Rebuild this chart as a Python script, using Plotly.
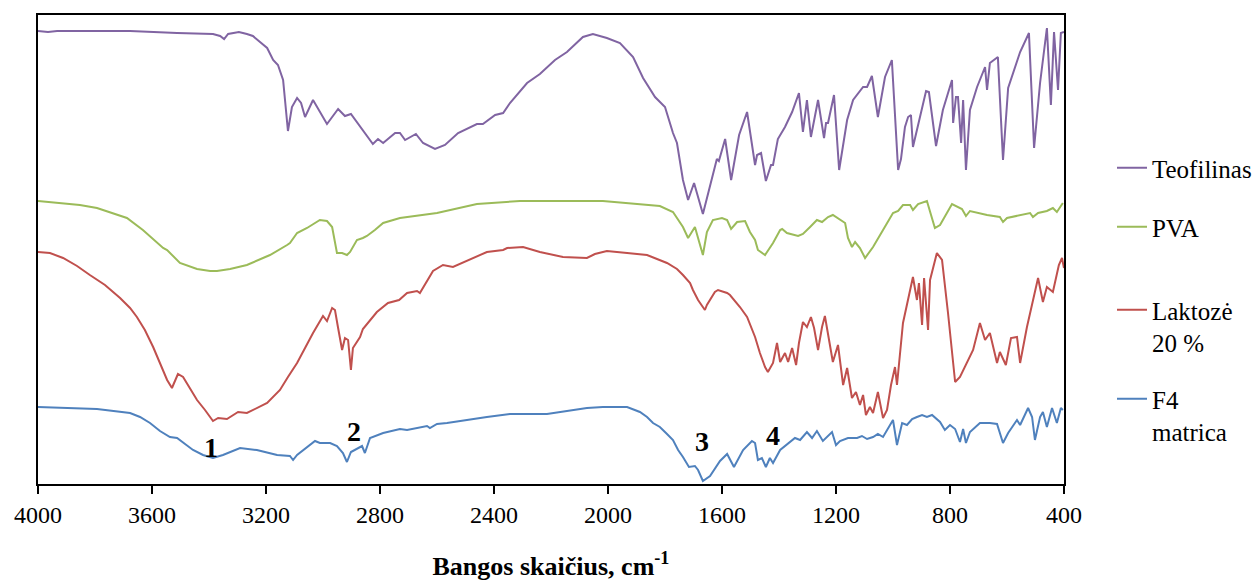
import plotly.graph_objects as go

# ---------------- data (wavenumber, cm-1 ; relative transmittance, a.u.) ----------------
teo_wn = [4000, 3965, 3933, 3677, 3512, 3386, 3361, 3347, 3333, 3316, 3295, 3267, 3246, 3221, 3196,
          3175, 3158, 3140, 3130, 3123, 3109, 3091, 3077, 3063, 3035, 3014, 2986, 2947, 2923, 2902,
          2877, 2825, 2807, 2789, 2747, 2730, 2712, 2674, 2649, 2607, 2572, 2526, 2460, 2439, 2396,
          2368, 2344, 2284, 2239, 2186, 2144, 2088, 2053, 2004, 1958, 1912, 1877, 1835, 1800, 1772,
          1758, 1737, 1719, 1698, 1667, 1642, 1618, 1611, 1589, 1568, 1540, 1512, 1495, 1484, 1477,
          1463, 1460, 1446, 1428, 1421, 1404, 1379, 1354, 1330, 1316, 1302, 1288, 1263, 1242, 1235,
          1228, 1207, 1189, 1161, 1140, 1105, 1091, 1074, 1053, 1028, 1004, 982, 972, 958, 947,
          937, 930, 916, 884, 874, 849, 825, 793, 789, 779, 772, 761, 754, 744, 730,
          705, 677, 670, 660, 632, 614, 596, 554, 523, 505, 484, 460, 446, 435, 421,
          411, 400]
teo_t = [453, 452, 453, 453, 451, 450, 448, 445, 450, 451, 452, 450, 448, 442, 436,
         424, 419, 404, 377, 353, 377, 386, 381, 367, 384, 374, 360, 375, 368, 370,
         360, 340, 345, 341, 351, 351, 344, 350, 341, 335, 339, 351, 360, 360, 369,
         371, 381, 401, 410, 424, 432, 447, 450, 446, 441, 427, 406, 387, 377, 351,
         341, 304, 284, 301, 270, 297, 325, 323, 345, 304, 349, 372, 341, 319, 329,
         331, 326, 303, 319, 319, 345, 357, 372, 391, 352, 384, 347, 384, 346, 361,
         361, 389, 314, 364, 384, 397, 397, 408, 367, 407, 424, 314, 325, 357, 367,
         369, 337, 354, 393, 392, 338, 374, 404, 361, 387, 387, 341, 384, 314, 374,
         397, 417, 394, 421, 427, 324, 396, 432, 451, 336, 401, 456, 379, 452, 394,
         451, 452]

pva_wn = [4000, 3853, 3793, 3737, 3688, 3632, 3561, 3547, 3502, 3442, 3396, 3372, 3326, 3267, 3186,
          3126, 3116, 3091, 3056, 3011,
          2986, 2968, 2951, 2933, 2916, 2905, 2881, 2860, 2846, 2818, 2789, 2730, 2649, 2600, 2460,
          2309, 2018, 1818, 1772, 1737, 1719, 1695, 1667, 1653, 1632, 1600, 1582, 1568, 1547, 1519,
          1502, 1484, 1474, 1449, 1421, 1396, 1389, 1372, 1333, 1316, 1291, 1267, 1249, 1228, 1211,
          1186, 1168, 1158, 1144, 1133, 1116, 1098, 1070, 1035, 1000, 982, 965, 940, 930, 912,
          881, 853, 835, 793, 775, 758, 744, 730, 670, 625, 614, 600, 519, 509, 491,
          460, 439, 425, 404]
pva_t = [283, 279, 276, 271, 266, 254, 236, 234, 221, 215, 213, 213, 215, 219, 229,
         239, 241, 251, 256, 264,
         263, 257, 231, 231, 229, 232, 244, 246, 248, 254, 261, 266, 269, 271, 280,
         283, 283, 278, 272, 257, 246, 257, 229, 252, 264, 266, 264, 255, 262, 263,
         252, 244, 234, 229, 241, 254, 255, 251, 248, 250, 257, 264, 262, 267, 269,
         264, 261, 246, 237, 242, 236, 226, 237, 254, 271, 273, 279, 279, 274, 280,
         283, 256, 259, 280, 277, 275, 268, 273, 269, 267, 262, 266, 271, 267, 271,
         273, 276, 272, 281]

lak_wn = [4000, 3958, 3912, 3863, 3818, 3765, 3712, 3677, 3653, 3625, 3596, 3579, 3561, 3547, 3530,
          3509, 3491, 3442, 3414, 3386, 3368, 3337, 3298, 3267, 3196, 3151, 3123, 3091, 3063, 3035,
          3000, 2986, 2968, 2958, 2947, 2933, 2923, 2912, 2902,
          2895, 2870, 2860, 2811, 2772, 2733, 2705, 2670, 2660, 2614, 2579, 2544, 2512, 2425, 2368,
          2354, 2298, 2239, 2158, 2074, 2046, 2004, 1933, 1863, 1793, 1758, 1737, 1712, 1702, 1684,
          1660, 1653, 1625, 1614, 1582, 1572, 1537,
          1512, 1484, 1467, 1449, 1439, 1421, 1407, 1396, 1379, 1368, 1354, 1340, 1330, 1316, 1302,
          1288, 1277, 1263, 1249, 1239, 1225, 1211, 1193, 1175, 1161, 1144, 1130, 1116, 1105, 1095,
          1081, 1070, 1053, 1035, 1021, 1007, 993, 986, 965, 930, 916, 909, 898, 891, 877,
          870, 846, 828, 807, 782, 765, 719, 695, 677, 660, 635, 625, 604, 586, 565,
          554, 530, 491, 474, 460, 439, 432, 418, 407, 400]
lak_t = [232, 231, 226, 218, 209, 199, 186, 176, 167, 154, 137, 126, 114, 104, 96,
         110, 107, 84, 74, 63, 66, 65, 72, 71, 81, 94, 107, 121, 136, 151,
         168, 163, 176, 174, 156, 134, 146, 144, 114,
         136, 147, 155, 172, 181, 184, 191, 193, 191, 213, 219, 217, 221, 232, 234,
         236, 237, 232, 227, 226, 230, 233, 231, 229, 221, 215, 209, 201, 194, 184,
         174, 179, 192, 194, 191, 189, 177,
         167, 147, 131, 117, 112, 121, 141, 122, 131, 122, 136, 119, 141, 162, 157,
         167, 156, 134, 157, 168, 144, 122, 139, 99, 116, 86, 92, 79, 89, 69,
         77, 71, 92, 66, 74, 99, 117, 99, 161, 207, 184, 201, 159, 206, 154,
         204, 231, 224, 171, 102, 107, 134, 161, 144, 151, 121, 132, 119, 146, 147,
         121, 157, 206, 182, 197, 192, 201, 219, 226, 216]

f4_wn = [4000, 3793, 3677, 3642, 3607, 3572, 3537, 3512, 3484, 3456, 3421, 3386, 3351, 3291, 3232,
         3161, 3116, 3105, 3091,
         3028, 3011, 2975, 2951, 2930, 2916, 2902, 2863, 2853, 2835, 2789, 2730, 2705, 2635, 2625,
         2600, 2565, 2425, 2344, 2214, 2074, 2018, 1933, 1888, 1863, 1842, 1818, 1793, 1772, 1754,
         1737, 1716, 1695,
         1684, 1667, 1642, 1607, 1582, 1558, 1526, 1495, 1484, 1474, 1460, 1446, 1432, 1421, 1396,
         1361, 1344, 1326, 1302, 1284, 1267, 1246, 1232, 1214, 1200, 1186, 1158, 1126, 1109, 1091,
         1070, 1053, 1035, 1018, 1000, 986, 968, 951, 933, 916, 898, 881, 863, 835, 818,
         800, 782, 765, 754, 744, 730, 695, 660, 635, 614, 596, 565, 554, 526, 512,
         502, 484, 474, 460, 442, 425, 411, 404]
f4_t = [77, 75, 71, 67, 61, 53, 47, 46, 40, 34, 29, 26, 29, 36, 34,
        29, 28, 24, 29,
        43, 41, 41, 38, 31, 22, 32, 38, 31, 46, 51, 55, 54, 58, 56,
        60, 61, 67, 70, 70, 76, 77, 77, 72, 67, 61, 57, 50, 44, 34,
        27, 17, 18,
        14, 3, 8, 23, 30, 17, 34, 43, 41, 24, 26, 17, 26, 21, 34,
        42, 46, 44, 52, 46, 53, 43, 47, 52, 39, 43, 46, 46, 48, 45,
        47, 50, 47, 56, 64, 39, 61, 59, 65, 67, 69, 67, 69, 62, 54,
        59, 55, 42, 55, 41, 52, 61, 61, 60, 41, 51, 64, 59, 76, 67,
        44, 67, 72, 57, 76, 61, 76, 74]

series_names = ["Teofilinas", "PVA", "Laktozė<br>20 %", "F4<br>matrica"]
series_colors = ["#8064A2", "#9BBB59", "#C0504D", "#4F81BD"]

# band labels: (text, wavenumber, transmittance)
band_labels = ["1", "2", "3", "4"]
band_wn = [3393, 2891, 1670, 1421]
band_t = [37, 53, 43, 49]

x_ticks = [4000, 3600, 3200, 2800, 2400, 2000, 1600, 1200, 800, 400]

# ---------------- figure ----------------
SERIF = "Liberation Serif, Times New Roman, serif"
W, H = 1254, 585
L, R, T, B = 38, 190, 15, 101
pw, ph = W - L - R, H - T - B

fig = go.Figure()
xs = [teo_wn, pva_wn, lak_wn, f4_wn]
ys = [teo_t, pva_t, lak_t, f4_t]
legend_ids = ["legend", "legend2", "legend3", "legend4"]
for i in range(4):
    fig.add_trace(go.Scatter(
        x=xs[i], y=ys[i], mode="lines", name=series_names[i],
        line=dict(color=series_colors[i], width=2),
        legend=legend_ids[i], hoverinfo="x+y+name"))

for txt, wn, tv in zip(band_labels, band_wn, band_t):
    fig.add_annotation(x=wn, y=tv, text=f"<b>{txt}</b>", showarrow=False,
                       font=dict(family=SERIF, size=28, color="black"))

# legend item centres (pixels from top) -> paper coords
leg_py = [168, 227, 326, 415]
leg_common = dict(font=dict(family=SERIF, size=25, color="black"), bgcolor="rgba(0,0,0,0)",
                  xanchor="left", yanchor="middle", valign="top", borderwidth=0)
lx = (1112 - L) / pw
for i, lid in enumerate(legend_ids):
    fig.update_layout({lid: dict(x=lx, y=(H - B - leg_py[i]) / ph, **leg_common)})

fig.update_layout(
    width=W, height=H,
    margin=dict(l=L, r=R, t=T, b=B, pad=0, autoexpand=False),
    paper_bgcolor="white", plot_bgcolor="white",
    showlegend=True,
    xaxis=dict(range=[4000, 400], tickvals=x_ticks, ticktext=[str(v) for v in x_ticks],
               showgrid=False, zeroline=False, showline=True, linecolor="black", linewidth=2,
               mirror=True, ticks="outside", ticklen=8, tickwidth=1.5, tickcolor="black",
               tickfont=dict(family=SERIF, size=24, color="black"),
               title=dict(text="<b>Bangos skaičius, cm<sup>-1</sup></b>", standoff=30,
                          font=dict(family=SERIF, size=26, color="black"))),
    yaxis=dict(range=[0, 469], showgrid=False, zeroline=False, showline=True, linecolor="black",
               linewidth=2, mirror=True, ticks="", showticklabels=False),
)

fig.write_html("out.html")
